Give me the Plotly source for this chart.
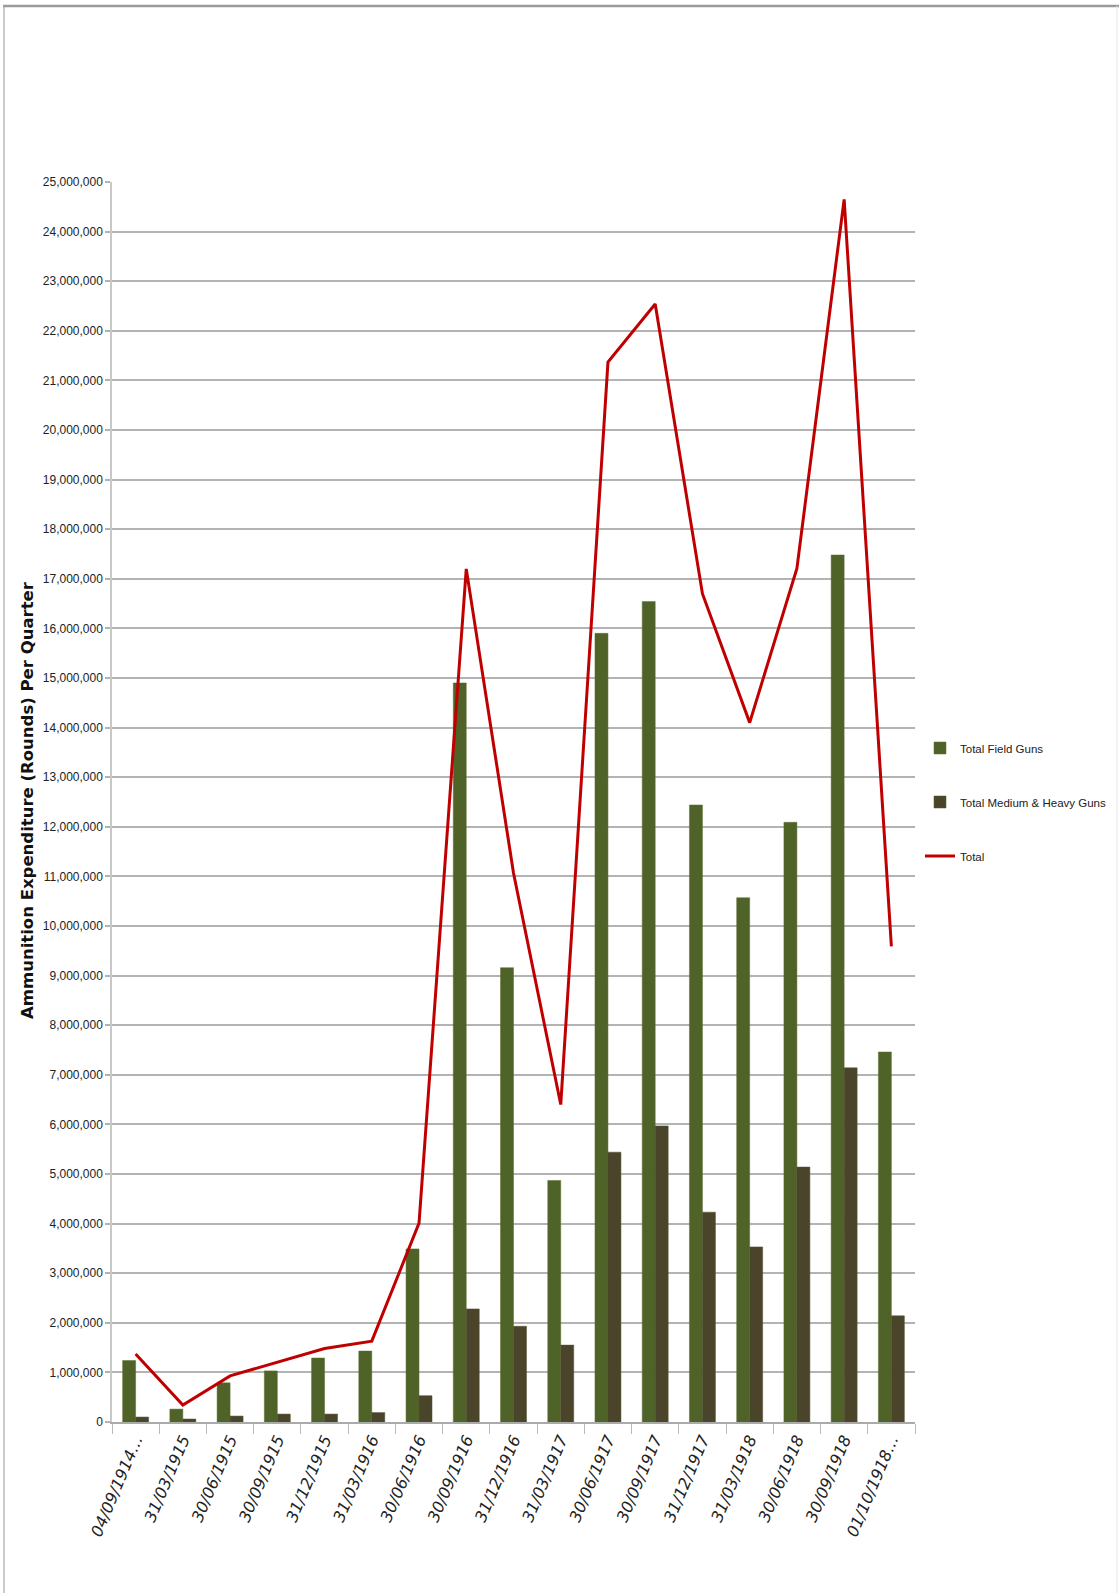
import plotly.graph_objects as go

# Quarter end dates
quarters = [
    "04/09/1914…", "31/03/1915", "30/06/1915", "30/09/1915", "31/12/1915",
    "31/03/1916", "30/06/1916", "30/09/1916", "31/12/1916", "31/03/1917",
    "30/06/1917", "30/09/1917", "31/12/1917", "31/03/1918", "30/06/1918",
    "30/09/1918", "01/10/1918…",
]

# Rounds fired per quarter
field_guns = [
    1240000, 260000, 790000, 1030000, 1290000, 1430000, 3490000, 14900000,
    9160000, 4870000, 15900000, 16540000, 12440000, 10570000, 12090000,
    17480000, 7460000,
]
medium_heavy_guns = [
    100000, 60000, 120000, 160000, 160000, 190000, 530000, 2280000,
    1930000, 1550000, 5440000, 5970000, 4230000, 3530000, 5140000,
    7140000, 2140000,
]
total = [
    1370000, 340000, 930000, 1210000, 1480000, 1630000, 4010000, 17200000,
    11070000, 6400000, 21370000, 22540000, 16700000, 14100000, 17210000,
    24650000, 9590000,
]

W, H = 1119, 1593
L, R, T, B = 112, 204, 182, 171

TEXT_FONT = "Liberation Sans, Arial, sans-serif"

fig = go.Figure()
fig.add_trace(go.Bar(
    x=quarters, y=field_guns, name="Total Field Guns",
    marker=dict(color="#4f6228", line=dict(color="#5a6e30", width=0.5)),
    legendgroup="a",
))
fig.add_trace(go.Bar(
    x=quarters, y=medium_heavy_guns, name="Total Medium & Heavy Guns",
    marker=dict(color="#4a452a", line=dict(color="#55502f", width=0.5)),
    legendgroup="b",
))
fig.add_trace(go.Scatter(
    x=quarters, y=total, name="Total", mode="lines",
    line=dict(color="#c00000", width=3),
    legendgroup="c",
))

def px_x(px):
    return (px - L) / (W - L - R)

def px_y(py):
    return (H - B - py) / (H - T - B)

# Outer frame lines
frame = dict(type="line", xref="paper", yref="paper", layer="above")
shapes = [
    dict(frame, x0=px_x(3), x1=px_x(W), y0=px_y(6), y1=px_y(6),
         line=dict(color="#9a9a9a", width=2.5)),
    dict(frame, x0=px_x(4), x1=px_x(4), y0=px_y(6), y1=px_y(H),
         line=dict(color="#a8a8a8", width=1.2)),
    dict(frame, x0=px_x(W - 2), x1=px_x(W - 2), y0=px_y(6), y1=px_y(H),
         line=dict(color="#e6e6e6", width=1)),
]

fig.update_layout(
    width=W, height=H,
    margin=dict(l=L, r=R, t=T, b=B, pad=0, autoexpand=False),
    paper_bgcolor="white", plot_bgcolor="white",
    barmode="group", bargap=0.45, bargroupgap=0,
    shapes=shapes,
    legend=dict(
        x=px_x(920), y=px_y(802), xanchor="left", yanchor="middle",
        font=dict(family=TEXT_FONT, size=11.5, color="#222"),
        tracegroupgap=35, itemwidth=30,
        bgcolor="rgba(0,0,0,0)",
    ),
    annotations=[dict(
        text="<b>Ammunition Expenditure (Rounds) Per Quarter</b>",
        xref="paper", yref="paper", x=px_x(27), y=px_y(800),
        xanchor="center", yanchor="middle", textangle=-90, showarrow=False,
        font=dict(family="DejaVu Sans", size=16.5, color="#111"),
    )],
)

fig.update_xaxes(
    type="category",
    showline=True, linecolor="#aaaaaa", linewidth=2,
    ticks="outside", tickson="boundaries", ticklen=10,
    tickcolor="#bbbbbb", tickwidth=1.2,
    tickangle=-67,
    tickfont=dict(family="DejaVu Sans", size=16, color="#222", style="italic"),
    showgrid=False,
)
fig.update_yaxes(
    range=[0, 25000000], dtick=1000000, tickformat=",d",
    showgrid=True, gridcolor="#b3b3b3", gridwidth=2,
    zeroline=False,
    showline=True, linecolor="#c8c8c8", linewidth=1.5,
    ticks="outside", ticklen=5, tickcolor="#b3b3b3", tickwidth=2,
    tickfont=dict(family=TEXT_FONT, size=12, color="#222"),
)

fig.write_html("out.html")
